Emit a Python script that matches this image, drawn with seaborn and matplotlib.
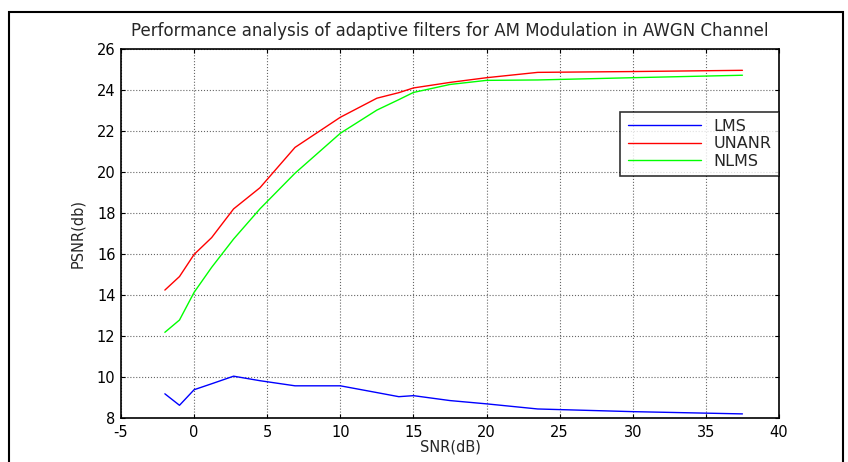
import numpy as np
import seaborn as sns
import matplotlib.pyplot as plt
import pandas as pd
from matplotlib.patches import Rectangle

# values
snr = [-2, -1, 0, 1.2, 2.7, 4.5, 6.9, 10, 12.5, 14, 15, 17.5, 20, 23.5, 30, 37.5]
lms = [9.18, 8.62, 9.38, 9.67, 10.04, 9.82, 9.57, 9.57, 9.24, 9.04, 9.09, 8.85, 8.69, 8.44, 8.31, 8.2]
unanr = [14.24, 14.9, 15.98, 16.8, 18.2, 19.23, 21.2, 22.67, 23.6, 23.87, 24.1, 24.37, 24.6, 24.86, 24.9, 24.96]
nlms = [12.18, 12.78, 14.13, 15.35, 16.73, 18.2, 19.94, 21.89, 23.02, 23.53, 23.88, 24.27, 24.47, 24.49, 24.6, 24.72]
series = ["LMS", "UNANR", "NLMS"]
colors = ["#0000ff", "#ff0000", "#00ff00"]

data = pd.DataFrame({
    "SNR": snr * 3,
    "PSNR": lms + unanr + nlms,
    "Filter": [series[0]] * len(snr) + [series[1]] * len(snr) + [series[2]] * len(snr),
})

sns.set_style("white")
# the screenshot text is stretched wide, DejaVu is the closer width
plt.rcParams['font.family'] = ['DejaVu Sans']
plt.rcParams['axes.unicode_minus'] = False

fig = plt.figure(figsize=(8.48, 4.62), dpi=100)
ax = fig.add_axes([121 / 848, 1 - 418 / 462, 658 / 848, 369 / 462])

sns.lineplot(data=data, x="SNR", y="PSNR", hue="Filter", palette=colors,
             linewidth=1.0, ax=ax, sort=False)

ax.set_xlim(-5, 40)
ax.set_ylim(8, 26)
ax.set_xticks(np.arange(-5, 41, 5))
ax.set_yticks(np.arange(8, 27, 2))
ax.grid(True, color="#666666", linestyle=":", linewidth=0.8)
ax.tick_params(direction="in", length=3, width=0.8, labelsize=10.5,
               top=True, right=True, bottom=True, left=True, colors="black")
ax.tick_params(axis="x", pad=5)
ax.tick_params(axis="y", pad=4)
for sp in ax.spines.values():
    sp.set_color("black")
    sp.set_linewidth(1.2)

ax.set_title("Performance analysis of adaptive filters for AM Modulation in AWGN Channel",
             fontsize=12, pad=9)
ax.set_xlabel("SNR(dB)", fontsize=10.5, labelpad=0)
ax.set_ylabel("PSNR(db)", fontsize=10.5, labelpad=8)

leg = ax.legend(loc="upper right", bbox_to_anchor=(1.0, 0.83), fontsize=11.5,
                frameon=True, fancybox=False, borderaxespad=0, handlelength=4.6,
                labelspacing=0.15, borderpad=0.45, handletextpad=0.8)
leg.get_frame().set_edgecolor("black")
leg.get_frame().set_linewidth(1.2)

# outer frame like the screenshot border
fig.patches.append(Rectangle((9 / 848, -0.05), 834 / 848, 1.05 - 12 / 462,
                             transform=fig.transFigure, fill=False,
                             edgecolor="black", linewidth=1.5))

fig.savefig("out.png", dpi=100)
